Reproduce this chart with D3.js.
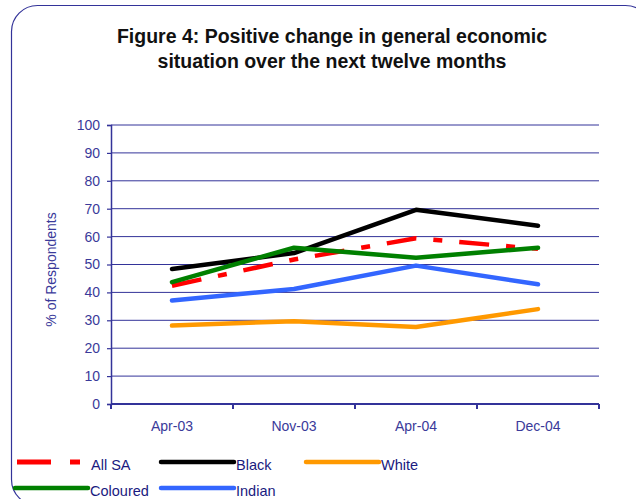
<!DOCTYPE html>
<html>
<head>
<meta charset="utf-8">
<script src="https://cdn.jsdelivr.net/npm/d3@7"></script>
<style>
  html, body { margin: 0; padding: 0; background: #fff; }
  svg { display: block; font-family: "Liberation Sans", Arial, sans-serif; }
</style>
</head>
<body>
<svg id="chart" width="636" height="499"></svg>
<script>
// Survey periods and share of respondents (%) expecting a positive change
const periods = ["Apr-03", "Nov-03", "Apr-04", "Dec-04"];
const allSA    = [42.4, 51.8, 59.4, 55.6];
const black    = [48.4, 54.1, 69.6, 63.9];
const white    = [28.1, 29.7, 27.6, 34.0];
const coloured = [43.7, 56.0, 52.4, 56.0];
const indian   = [37.1, 41.2, 49.6, 42.9];
const yTicks   = [0, 10, 20, 30, 40, 50, 60, 70, 80, 90, 100];

const series = [
  { name: "All SA",   values: allSA,    color: "#ff0000", dash: "30,17,9,17" },
  { name: "Black",    values: black,    color: "#000000" },
  { name: "White",    values: white,    color: "#ff9900" },
  { name: "Coloured", values: coloured, color: "#008000" },
  { name: "Indian",   values: indian,   color: "#3366ff" }
];
// draw order: later series sit on top
const drawOrder = ["White", "Indian", "Black", "All SA", "Coloured"];

const navy = "#333399";
const svg = d3.select("#chart");

// rounded outer frame
svg.append("rect")
  .attr("x", 11.5).attr("y", 5.5)
  .attr("width", 640).attr("height", 500)
  .attr("rx", 26).attr("ry", 26)
  .attr("fill", "none").attr("stroke", navy).attr("stroke-width", 1.2);

// title
const title = svg.append("text")
  .attr("text-anchor", "middle")
  .attr("font-weight", "bold").attr("font-size", 19.5)
  .attr("fill", "#111");
title.append("tspan").attr("x", 332).attr("y", 43).text("Figure 4: Positive change in general economic");
title.append("tspan").attr("x", 332).attr("y", 68).text("situation over the next twelve months");

const plotLeft = 111, plotRight = 599, plotTop = 125, plotBottom = 404;

const x = d3.scaleBand().domain(periods).range([plotLeft, plotRight]).paddingInner(0).paddingOuter(0);
const y = d3.scaleLinear().domain([0, 100]).range([plotBottom, plotTop]);

// horizontal gridlines
svg.append("g").selectAll("line")
  .data(yTicks.filter(t => t > 0))
  .join("line")
  .attr("x1", plotLeft).attr("x2", plotRight)
  .attr("y1", d => y(d)).attr("y2", d => y(d))
  .attr("stroke", navy).attr("stroke-width", 1);

// y axis
const yAxis = svg.append("g")
  .attr("transform", `translate(${plotLeft},0)`)
  .call(d3.axisLeft(y).tickValues(yTicks).tickSize(4).tickPadding(7));
yAxis.select(".domain").attr("stroke", navy).attr("stroke-width", 1.5);
yAxis.selectAll(".tick line").attr("stroke", navy).attr("stroke-width", 1.2);
yAxis.selectAll(".tick text")
  .attr("fill", "#3a3a9a").attr("font-size", 14)
  .attr("font-family", "Liberation Sans, Arial, sans-serif");

// x axis with ticks at category boundaries
const xAxisG = svg.append("g").attr("transform", `translate(0,${plotBottom})`);
xAxisG.append("line")
  .attr("x1", plotLeft).attr("x2", plotRight).attr("y1", 0).attr("y2", 0)
  .attr("stroke", navy).attr("stroke-width", 2);
const boundaries = periods.map(p => x(p)).concat([x(periods[periods.length - 1]) + x.bandwidth()]);
xAxisG.selectAll("line.tk")
  .data(boundaries)
  .join("line").attr("class", "tk")
  .attr("x1", d => d).attr("x2", d => d)
  .attr("y1", 0).attr("y2", 5)
  .attr("stroke", navy).attr("stroke-width", 2);
xAxisG.selectAll("text")
  .data(periods)
  .join("text")
  .attr("x", d => x(d) + x.bandwidth() / 2)
  .attr("y", 27)
  .attr("text-anchor", "middle")
  .attr("font-size", 14).attr("fill", "#3a3a9a")
  .text(d => d);

// y axis title
svg.append("text")
  .attr("transform", `translate(56,${(plotTop + plotBottom) / 2 + 5}) rotate(-90)`)
  .attr("text-anchor", "middle")
  .attr("font-size", 14).attr("fill", "#3a3a9a")
  .text("% of Respondents");

// series lines
const line = d3.line()
  .x((d, i) => x(periods[i]) + x.bandwidth() / 2)
  .y(d => y(d));

drawOrder.forEach(n => {
  const s = series.find(d => d.name === n);
  svg.append("path")
    .datum(s.values)
    .attr("d", line)
    .attr("fill", "none")
    .attr("stroke", s.color)
    .attr("stroke-width", 4.5)
    .attr("stroke-linecap", s.dash ? "butt" : "round")
    .attr("stroke-linejoin", "round")
    .attr("stroke-dasharray", s.dash || null);
});

// legend (two rows)
const legendPos = {
  "All SA":   { x: 17,  y: 462 },
  "Black":    { x: 161, y: 462 },
  "White":    { x: 306, y: 462 },
  "Coloured": { x: 15,  y: 488 },
  "Indian":   { x: 161, y: 488 }
};
const legend = svg.append("g");
series.forEach(s => {
  const p = legendPos[s.name];
  const len = s.dash ? 63 : 73;
  legend.append("line")
    .attr("x1", p.x).attr("x2", p.x + len)
    .attr("y1", p.y).attr("y2", p.y)
    .attr("stroke", s.color).attr("stroke-width", s.dash ? 5 : 4.5)
    .attr("stroke-linecap", s.dash ? "butt" : "round")
    .attr("stroke-dasharray", s.dash ? "34,19,10,50" : null);
  legend.append("text")
    .attr("x", s.dash ? p.x + 74 : p.x + len + 2)
    .attr("y", p.y + 8)
    .attr("font-size", 14.5).attr("fill", "#1a1a80")
    .text(s.name);
});
</script>
</body>
</html>
